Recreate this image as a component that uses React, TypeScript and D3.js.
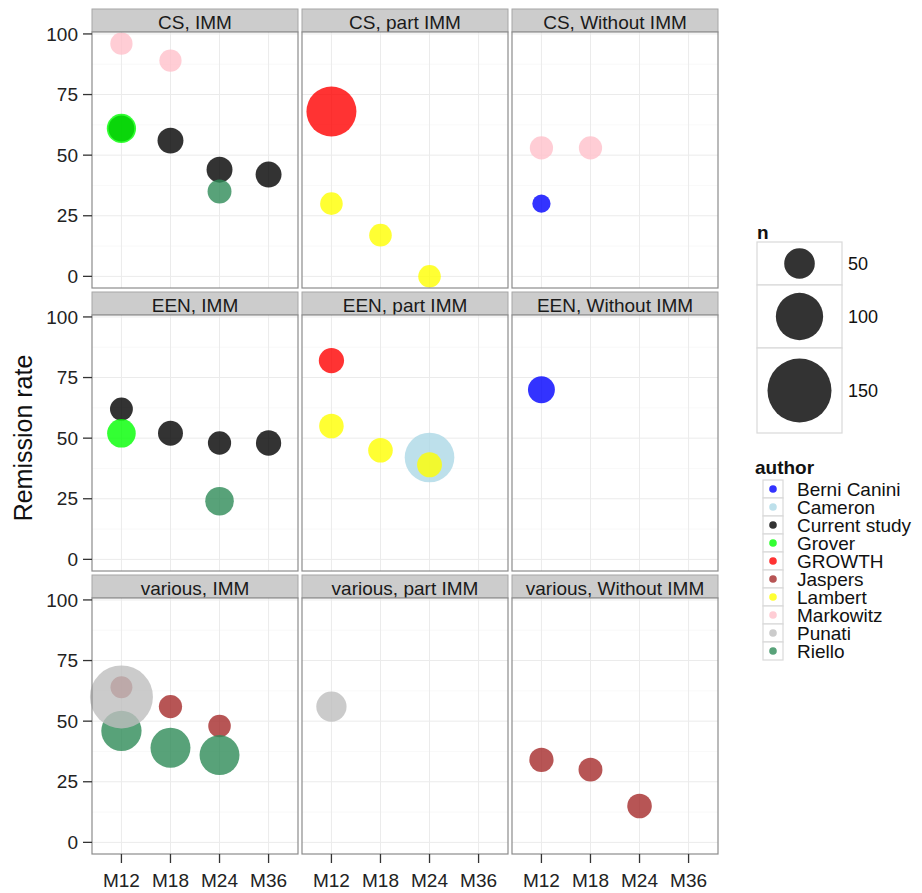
import React from "react"
import * as d3 from "d3"

// facets
const methods = ["CS", "EEN", "various"]
const immGroups = ["IMM", "part IMM", "Without IMM"]
const times = ["M12", "M18", "M24", "M36"]
const yTicks = [0, 25, 50, 75, 100]

const authors = [
  "Berni Canini",
  "Cameron",
  "Current study",
  "Grover",
  "GROWTH",
  "Jaspers",
  "Lambert",
  "Markowitz",
  "Punati",
  "Riello"
]
const authorColors = [
  "#0000FF",
  "#ADD8E6",
  "#000000",
  "#00FF00",
  "#FF0000",
  "#A52A2A",
  "#FFFF00",
  "#FFC0CB",
  "#BEBEBE",
  "#2E8B57"
]

const sizeBreaks = [50, 100, 150]

// [author, time, remission rate, n]
const csImm = [
  ["Current study", "M12", 61, 36],
  ["Current study", "M18", 56, 36],
  ["Current study", "M24", 44, 36],
  ["Current study", "M36", 42, 36],
  ["Grover", "M12", 61, 46],
  ["Markowitz", "M12", 96, 25],
  ["Markowitz", "M18", 89, 25],
  ["Riello", "M24", 35, 30]
]
const csPart = [
  ["GROWTH", "M12", 68, 108],
  ["Lambert", "M12", 30, 26],
  ["Lambert", "M18", 17, 26],
  ["Lambert", "M24", 0, 26]
]
const csWithout = [
  ["Berni Canini", "M12", 30, 13],
  ["Markowitz", "M12", 53, 28],
  ["Markowitz", "M18", 53, 28]
]
const eenImm = [
  ["Current study", "M12", 62, 27],
  ["Current study", "M18", 52, 33],
  ["Current study", "M24", 48, 28],
  ["Current study", "M36", 48, 34],
  ["Grover", "M12", 52, 44],
  ["Riello", "M24", 24, 44]
]
const eenPart = [
  ["Cameron", "M24", 42, 107],
  ["GROWTH", "M12", 82, 34],
  ["Lambert", "M12", 55, 32],
  ["Lambert", "M18", 45, 32],
  ["Lambert", "M24", 39, 33]
]
const eenWithout = [["Berni Canini", "M12", 70, 39]]
const variousImm = [
  ["Jaspers", "M12", 64, 24],
  ["Jaspers", "M18", 56, 28],
  ["Jaspers", "M24", 48, 26],
  ["Riello", "M12", 46, 79],
  ["Riello", "M18", 39, 78],
  ["Riello", "M24", 36, 78],
  ["Punati", "M12", 60, 147]
]
const variousPart = [["Punati", "M12", 56, 49]]
const variousWithout = [
  ["Jaspers", "M12", 34, 31],
  ["Jaspers", "M18", 30, 30],
  ["Jaspers", "M24", 15, 32]
]

const panels = [
  [csImm, csPart, csWithout],
  [eenImm, eenPart, eenWithout],
  [variousImm, variousPart, variousWithout]
]

const W = 922
const H = 893
const left = 92
const top = 9
const panelW = 206
const panelH = 256
const stripH = 23
const gap = 4
const font = "'Liberation Sans', Arial, sans-serif"

export default function App() {
  const x = d3.scalePoint().domain(times).range([0, panelW]).padding(0.6)
  const y = d3.scaleLinear().domain([-4.8, 100.8]).range([panelH, 0])
  const r = d3.scaleLinear().domain([50, 150]).range([15.3, 32])
  const color = d3.scaleOrdinal<string, string>().domain(authors).range(authorColors)
  const minor = d3.range(12.5, 100, 25)

  const nKeyRows = [
    { y0: 242, y1: 285 },
    { y0: 285, y1: 348 },
    { y0: 348, y1: 433 }
  ]

  return (
    <svg
      width={W}
      height={H}
      style={{ position: "absolute", left: 0, top: 0, background: "#fff" }}
      fontFamily={font}
    >
      {methods.map((m, ri) =>
        immGroups.map((g, ci) => {
          const px = left + ci * (panelW + gap)
          const sy = top + ri * (stripH + panelH + gap)
          const py = sy + stripH
          const pts = panels[ri][ci]
          return (
            <g key={m + g}>
              <rect x={px} y={sy} width={panelW} height={stripH} fill="#CCCCCC" stroke="#A6A6A6" strokeWidth={1} />
              <text x={px + panelW / 2} y={sy + 19.5} textAnchor="middle" fontSize={19} fill="#1a1a1a">
                {m + ", " + g}
              </text>
              <g transform={`translate(${px},${py})`}>
                <rect width={panelW} height={panelH} fill="#fff" />
                {minor.map(v => (
                  <line key={"mn" + v} x1={0} x2={panelW} y1={y(v)} y2={y(v)} stroke="#F7F7F7" strokeWidth={0.7} />
                ))}
                {yTicks.map(v => (
                  <line key={"mj" + v} x1={0} x2={panelW} y1={y(v)} y2={y(v)} stroke="#EBEBEB" strokeWidth={1} />
                ))}
                {times.map(t => (
                  <line key={"v" + t} x1={x(t)} x2={x(t)} y1={0} y2={panelH} stroke="#EBEBEB" strokeWidth={1} />
                ))}
                {pts.map((p, i) => (
                  <circle
                    key={i}
                    cx={x(p[1] as string)}
                    cy={y(p[2] as number)}
                    r={r(p[3] as number)}
                    fill={color(p[0] as string)}
                    fillOpacity={0.8}
                  />
                ))}
                <rect width={panelW} height={panelH} fill="none" stroke="#8C8C8C" strokeWidth={1.2} />
              </g>
              {ci === 0 &&
                yTicks.map(v => (
                  <g key={"yt" + v}>
                    <line x1={px - 9} x2={px} y1={py + y(v)} y2={py + y(v)} stroke="#333" strokeWidth={1.3} />
                    <text x={px - 14} y={py + y(v)} dy="0.35em" textAnchor="end" fontSize={19} fill="#222">
                      {v}
                    </text>
                  </g>
                ))}
              {ri === methods.length - 1 &&
                times.map(t => (
                  <g key={"xt" + t}>
                    <line
                      x1={px + x(t)}
                      x2={px + x(t)}
                      y1={py + panelH}
                      y2={py + panelH + 9}
                      stroke="#333"
                      strokeWidth={1.3}
                    />
                    <text x={px + x(t)} y={887} textAnchor="middle" fontSize={19} fill="#222">
                      {t}
                    </text>
                  </g>
                ))}
            </g>
          )
        })
      )}

      <text transform="translate(32,438) rotate(-90)" textAnchor="middle" fontSize={25} fill="#111">
        Remission rate
      </text>

      {/* size legend */}
      <text x={757} y={239} fontSize={19} fontWeight="bold" fill="#111">
        n
      </text>
      {sizeBreaks.map((b, i) => {
        const row = nKeyRows[i]
        const cy = (row.y0 + row.y1) / 2
        return (
          <g key={"n" + b}>
            <rect x={757} y={row.y0} width={85} height={row.y1 - row.y0} fill="#fff" stroke="#D9D9D9" strokeWidth={1.2} />
            <circle cx={799.5} cy={cy} r={r(b)} fill="#000" fillOpacity={0.8} />
            <text x={848} y={cy} dy="0.35em" fontSize={18} fill="#111">
              {b}
            </text>
          </g>
        )
      })}

      {/* author legend */}
      <text x={755} y={474} fontSize={19} fontWeight="bold" fill="#111">
        author
      </text>
      {authors.map((a, i) => {
        const cy = 489 + i * 18
        return (
          <g key={a}>
            <rect x={763} y={cy - 9} width={20} height={18} fill="#fff" stroke="#D9D9D9" strokeWidth={1.2} />
            <circle cx={773} cy={cy} r={3.8} fill={color(a)} fillOpacity={0.8} />
            <text x={797} y={cy} dy="0.35em" fontSize={19} fill="#111">
              {a}
            </text>
          </g>
        )
      })}
    </svg>
  )
}
